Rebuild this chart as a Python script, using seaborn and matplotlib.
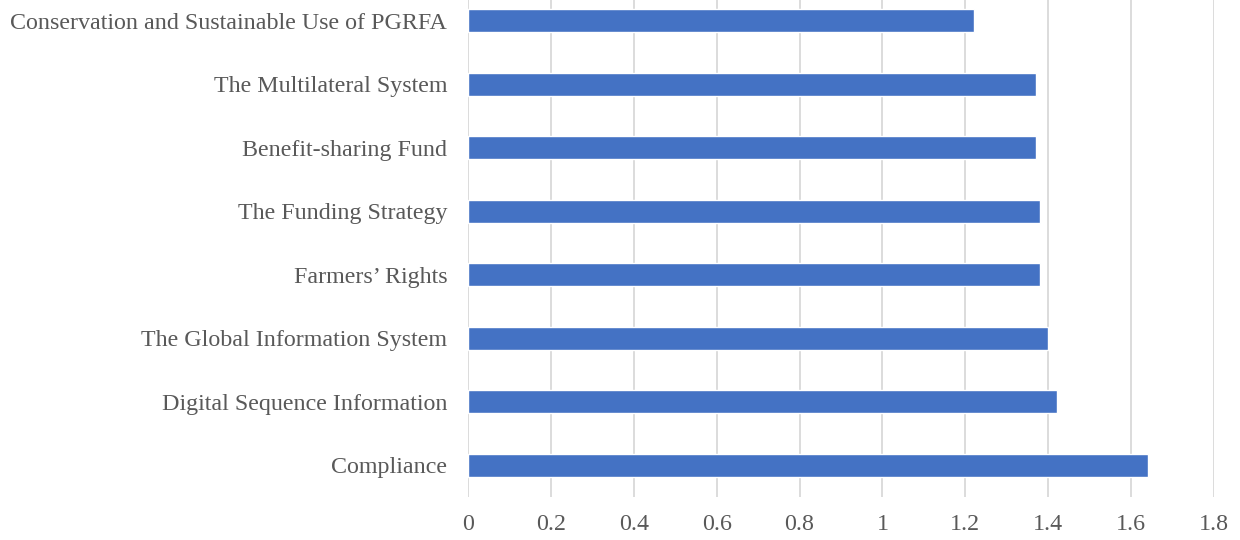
import matplotlib
matplotlib.use("Agg")
import matplotlib.pyplot as plt
import seaborn as sns
import pandas as pd

categories = [
    "Conservation and Sustainable Use of PGRFA",
    "The Multilateral System",
    "Benefit-sharing Fund",
    "The Funding Strategy",
    "Farmers\u2019 Rights",
    "The Global Information System",
    "Digital Sequence Information",
    "Compliance",
]
values = [1.22, 1.37, 1.37, 1.38, 1.38, 1.40, 1.42, 1.64]
xticks = [0, 0.2, 0.4, 0.6, 0.8, 1, 1.2, 1.4, 1.6, 1.8]
xticklabels = ["0", "0.2", "0.4", "0.6", "0.8", "1", "1.2", "1.4", "1.6", "1.8"]

df = pd.DataFrame({"category": categories, "value": values})

sns.set_style("white")
plt.rcParams["font.family"] = ["Liberation Serif", "DejaVu Serif"]

fig = plt.figure(figsize=(12.4, 5.4), dpi=100)
ax = fig.add_axes([468 / 1240, 43 / 540, 746 / 1240, 508 / 540])

sns.barplot(data=df, y="category", x="value", color="#4472C4",
            width=0.36, saturation=1, ax=ax, zorder=3)

ax.set_xlim(0, 1.8)
ax.set_ylim(7.5, -0.5)
ax.set_xticks(xticks)
ax.set_xticklabels(xticklabels)
ax.grid(axis="x", color="#D9D9D9", linewidth=1.3, zorder=0)
ax.set_axisbelow(True)
for s in ax.spines.values():
    s.set_visible(False)
ax.set_xlabel("")
ax.set_ylabel("")
ax.tick_params(axis="both", length=0, labelsize=17.3, labelcolor="#595959")
ax.tick_params(axis="y", pad=15)
ax.tick_params(axis="x", pad=12)

fig.savefig("out.png", dpi=100)
